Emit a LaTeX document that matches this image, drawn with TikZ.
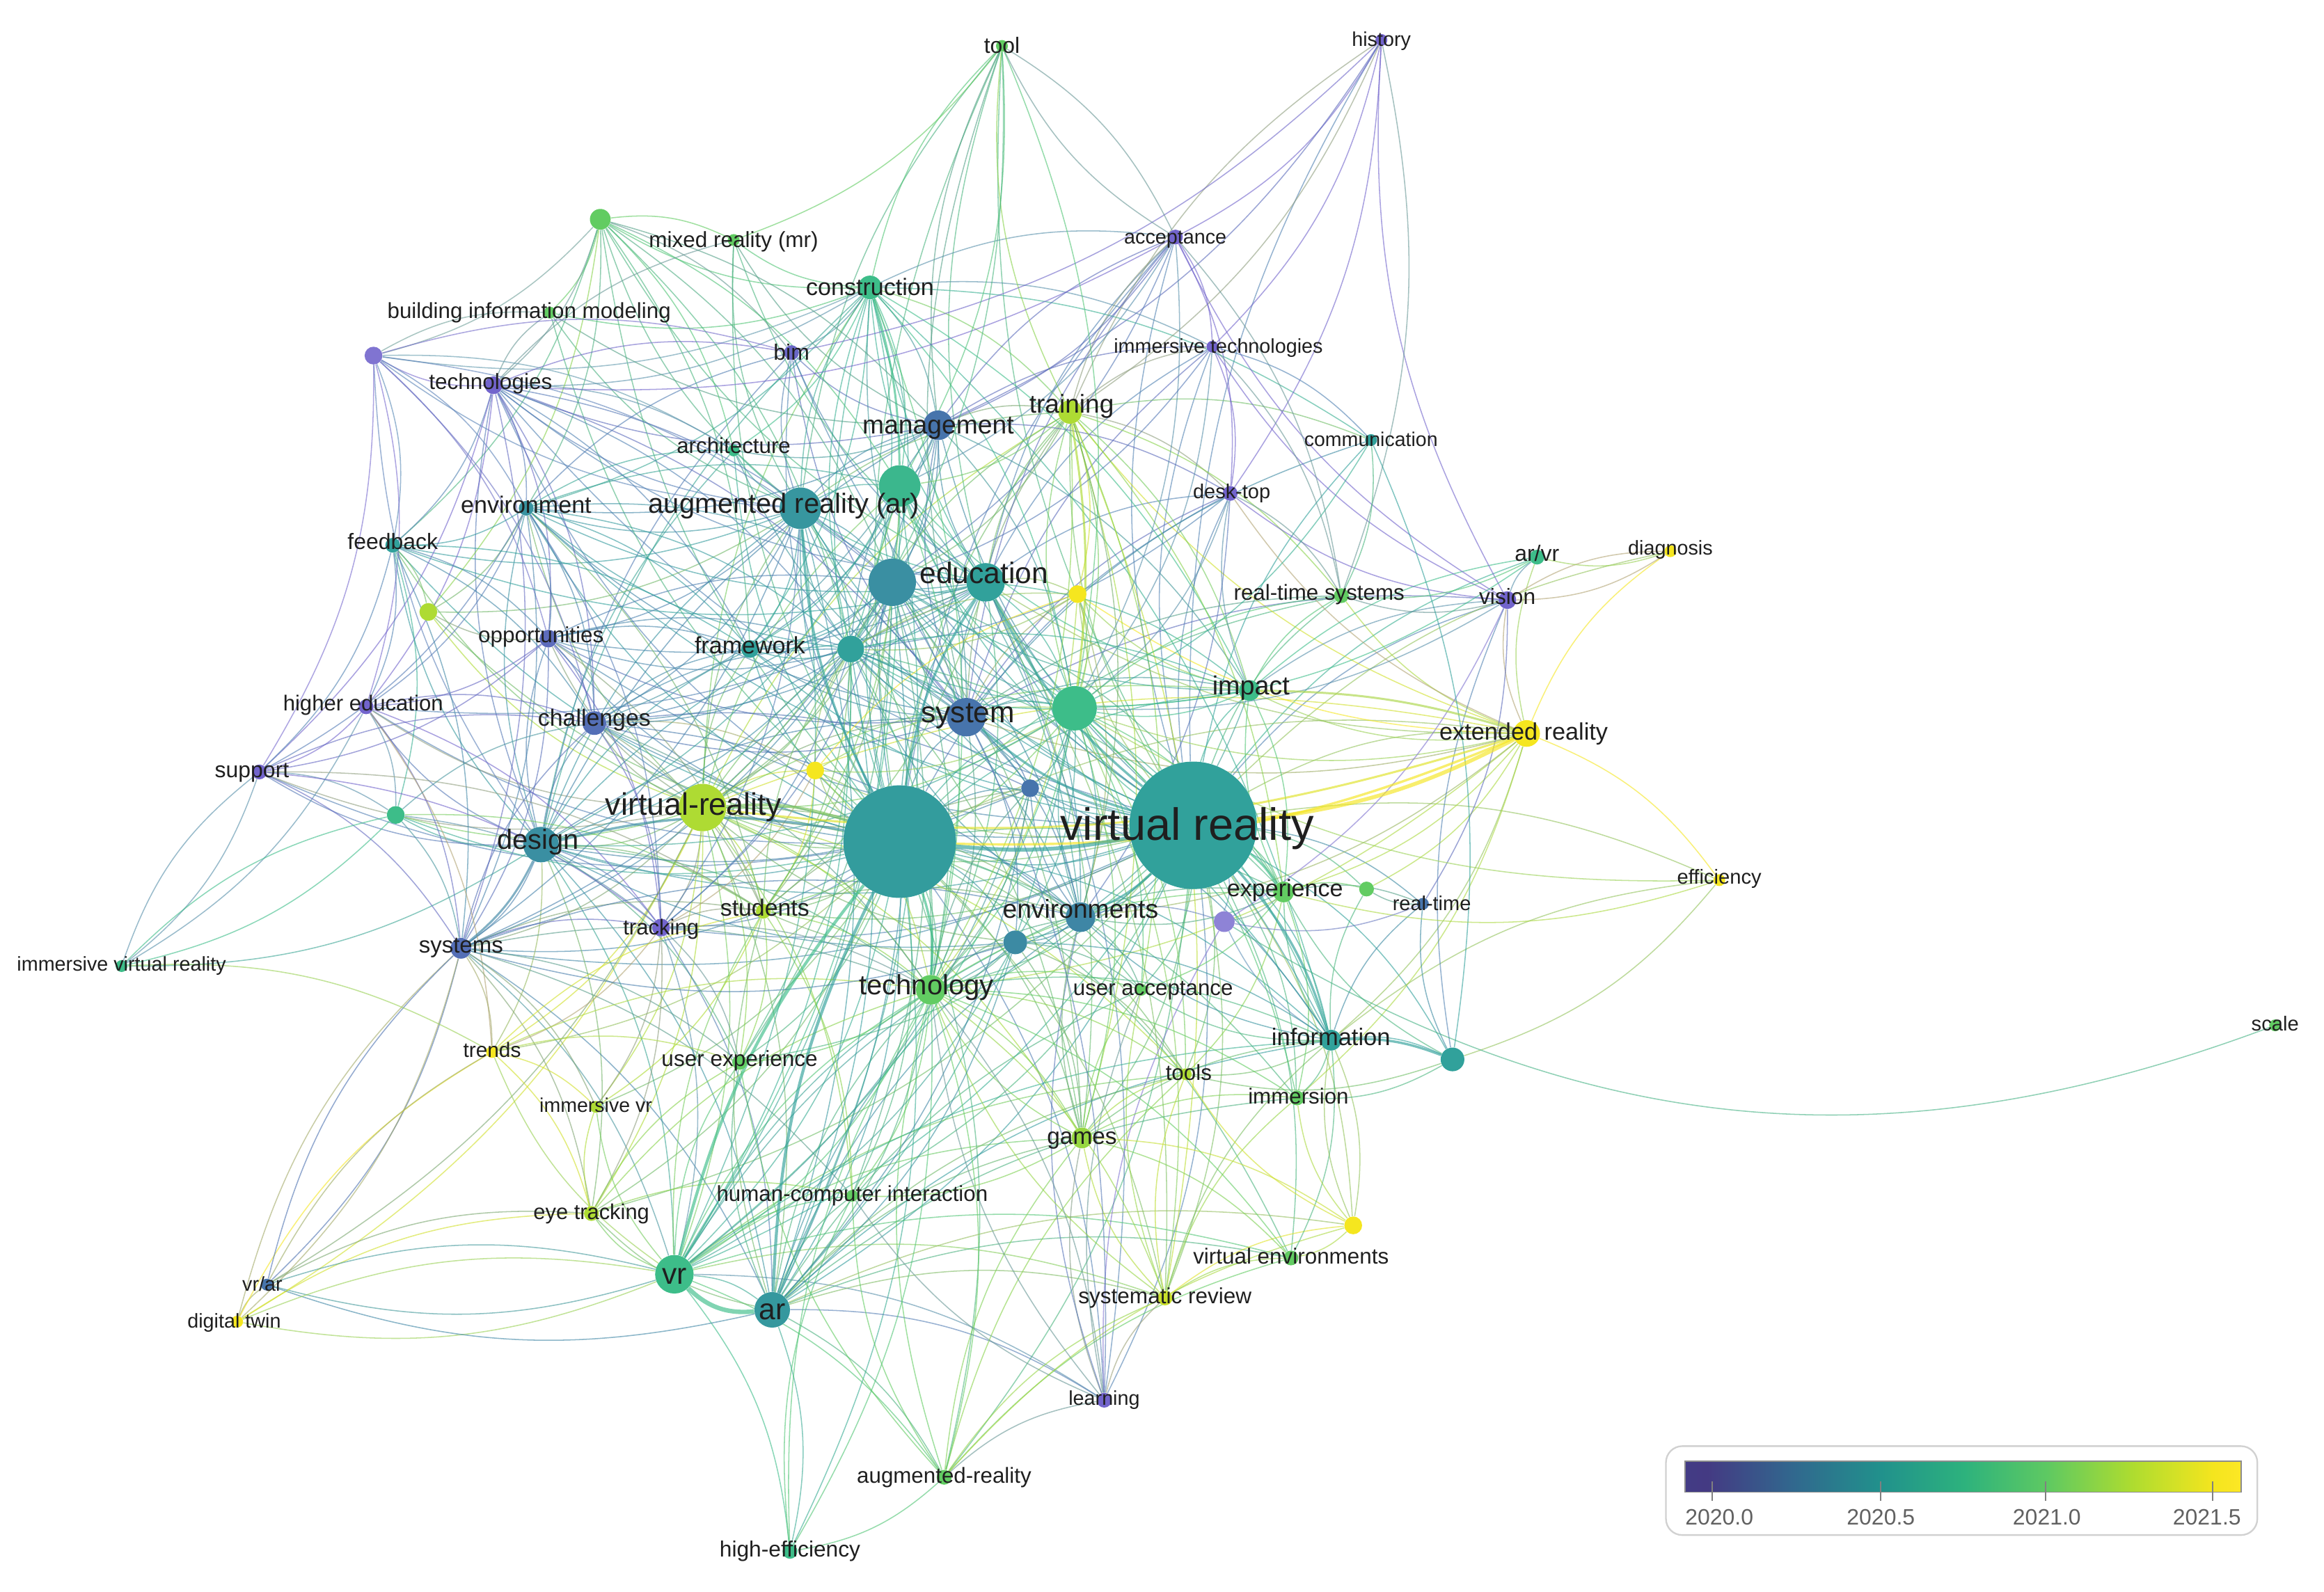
\documentclass[tikz,border=0pt]{standalone}
\usepackage{fontspec}
\setmainfont{Liberation Sans}
\pgfdeclarelayer{edges}
\pgfdeclarelayer{paper}
\pgfsetlayers{paper,edges,main}
\definecolor{k0}{HTML}{7264CC}
\definecolor{k1}{HTML}{4774AC}
\definecolor{k2}{HTML}{31A19B}
\definecolor{k3}{HTML}{3DBD89}
\definecolor{k4}{HTML}{62CC62}
\definecolor{k5}{HTML}{AEDB33}
\definecolor{k6}{HTML}{F5E61F}
\newcommand\kwnode[5]{\colorlet{col#1}{#5}\node[kwn,minimum size={2*#4pt},fill=#5] (#1) at (#2,#3) {};}
\newcommand\kwlab[5]{\node[kwl,font=\fontsize{#4}{#4}\selectfont] (l#1) at ({#2},{#3+0.33*#4}) {#5};}
\begin{document}
\begin{tikzpicture}[x=1pt,y=-1pt,
  kwn/.style={circle,inner sep=0pt,draw=none},
  kwl/.style={text=black!88,inner sep=0pt,anchor=base},
  edge/.style={line width=0.72pt,draw opacity=0.6},
  thick edge/.style={draw opacity=0.65}]
\useasboundingbox (0,0) rectangle (1568,1074);
\begin{pgfonlayer}{paper}
\fill[white] (0,0) rectangle (1568,1074);
\end{pgfonlayer}
% ---------- keyword nodes
\kwnode{tool}{676}{31}{4}{k4}
\kwnode{history}{932}{27}{4}{k0}
\kwnode{mrnode}{405}{148}{7}{k4}
\kwnode{mixedreality}{495}{162}{4}{k4}
\kwnode{acceptance}{793}{160}{5}{k0}
\kwnode{construction}{587}{194}{8}{k3}
\kwnode{bimodel}{371}{211}{4}{k4}
\kwnode{bim}{534}{238}{5}{k0!80!k1}
\kwnode{immtech}{818}{234}{4}{k0}
\kwnode{purpleA}{252}{240}{6}{k0!90!white}
\kwnode{technologies}{333}{260}{6}{k0}
\kwnode{training}{722}{278}{8}{k5}
\kwnode{management}{633}{287}{10}{k1}
\kwnode{architecture}{495}{304}{4}{k3}
\kwnode{communication}{925}{297}{4}{k2}
\kwnode{desktop}{830}{333}{5}{k0}
\kwnode{environment}{355}{343}{5}{k2!70!k1}
\kwnode{arnode}{540}{343}{14}{k2!75!k1}
\kwnode{bignodeA}{607}{328}{14}{k3!80!k2}
\kwnode{feedback}{265}{368}{5}{k2}
\kwnode{edunode}{602}{393}{16}{k1!40!k2}
\kwnode{education}{665}{393}{13}{k2}
\kwnode{arvr}{1037}{376}{5}{k3}
\kwnode{diagnosis}{1127}{372}{4}{k6}
\kwnode{rtsys}{905}{402}{5}{k4}
\kwnode{vision}{1017}{405}{6}{k0}
\kwnode{opportunities}{370}{431}{6}{k1!50!k0}
\kwnode{framework}{506}{438}{6}{k2}
\kwnode{midnode}{574}{438}{9}{k2}
\kwnode{yellowA}{727}{401}{6}{k6}
\kwnode{greenL}{289}{413}{6}{k5}
\kwnode{impact}{843}{466}{7}{k3}
\kwnode{highered}{247}{477}{5}{k0}
\kwnode{challenges}{401}{488}{8}{k1!70!k0}
\kwnode{system}{652}{484}{13}{k1}
\kwnode{biggreen}{725}{478}{15}{k3}
\kwnode{extreality}{1030}{495}{9}{k6}
\kwnode{support}{175}{521}{5}{k0}
\kwnode{virtreal}{474}{545}{16}{k5}
\kwnode{yellowsm}{550}{520}{6}{k6}
\kwnode{vrmain}{805}{557}{43}{k2}
\kwnode{bigcenter}{607}{568}{38}{k2!90!k1}
\kwnode{design}{365}{570}{12}{k2!60!k1}
\kwnode{greenM}{267}{550}{6}{k3}
\kwnode{experience}{866}{602}{7}{k4}
\kwnode{efficiency}{1160}{594}{4}{k6}
\kwnode{realtime}{960}{610}{4}{k1}
\kwnode{greenrt}{922}{600}{5}{k4}
\kwnode{environments}{729}{619}{10}{k1!60!k2}
\kwnode{purpleB}{826}{622}{7}{k0!80!white}
\kwnode{students}{515}{615}{5}{k5}
\kwnode{tracking}{446}{626}{6}{k0}
\kwnode{systems}{311}{640}{7}{k1!70!k0}
\kwnode{ivr}{82}{652}{4}{k3}
\kwnode{node685}{685}{636}{8}{k1!50!k2}
\kwnode{purplesm}{695}{532}{6}{k1}
\kwnode{technology}{628}{668}{10}{k4}
\kwnode{useracc}{770}{668}{4}{k4}
\kwnode{scale}{1535}{692}{4}{k4}
\kwnode{information}{898}{702}{7}{k2}
\kwnode{tealnode}{980}{715}{8}{k2}
\kwnode{trends}{332}{710}{4}{k6}
\kwnode{userexp}{499}{717}{5}{k4}
\kwnode{tools}{800}{725}{4}{k5}
\kwnode{immvr}{402}{747}{4}{k5}
\kwnode{immersion}{875}{741}{5}{k4}
\kwnode{games}{730}{768}{7}{k5!70!k4}
\kwnode{hci}{575}{807}{4}{k4}
\kwnode{eyetrack}{399}{819}{5}{k5}
\kwnode{yellowB}{913}{827}{6}{k6}
\kwnode{virtenv}{871}{849}{5}{k4}
\kwnode{vr}{455}{860}{13}{k3}
\kwnode{sysrev}{786}{876}{5}{k5!60!k6}
\kwnode{ar}{521}{884}{12}{k2!80!k1}
\kwnode{vrar}{180}{867}{4}{k1}
\kwnode{digitaltwin}{160}{892}{4}{k6}
\kwnode{learning}{745}{945}{5}{k0}
\kwnode{augreal}{637}{997}{5}{k4}
\kwnode{higheff}{533}{1047}{5}{k3}
% ---------- links
\begin{pgfonlayer}{edges}
\foreach \a/\bl in {
 vrmain/{bigcenter,system,education,edunode,arnode,bignodeA,management,training,construction,impact,experience,environments,information,tealnode,technology,useracc,games,immersion,tools,sysrev,virtenv,vr,ar,design,virtreal,students,challenges,framework,midnode,biggreen,vision,arvr,rtsys,desktop,acceptance,immtech,history,communication,realtime,greenrt,efficiency,purpleB,node685,yellowB,learning,augreal,hci,userexp,tracking,systems,eyetrack,opportunities,environment,bim,tool,technologies,extreality,diagnosis,yellowA,yellowsm,purplesm},
 bigcenter/{system,education,edunode,arnode,bignodeA,management,training,construction,impact,experience,environments,information,technology,useracc,games,immersion,tools,sysrev,virtenv,vr,ar,design,virtreal,students,challenges,framework,midnode,biggreen,rtsys,desktop,acceptance,bim,tool,technologies,environment,opportunities,feedback,highered,support,systems,tracking,userexp,hci,eyetrack,immvr,trends,augreal,higheff,learning,architecture,mixedreality,mrnode,bimodel,greenL,greenM,extreality,yellowsm,purplesm,node685},
 virtreal/{design,challenges,systems,tracking,students,system,education,framework,opportunities,highered,support,greenL,greenM,environment,feedback,technology,userexp,trends,immvr,eyetrack,vr,ar,games,extreality,yellowsm,training,impact,environments,construction,arnode,bignodeA,hci,digitaltwin,vrar,tools},
 design/{systems,challenges,support,highered,greenM,environment,technologies,feedback,opportunities,tracking,students,framework,arnode,management,education,system,vr,ar,technology,userexp,eyetrack,ivr,purpleA,bim,architecture,construction,trends},
 extreality/{impact,arvr,diagnosis,vision,efficiency,experience,biggreen,system,training,rtsys,yellowA,technology,environments,information,greenrt,desktop,immersion,education},
 system/{education,edunode,arnode,management,training,construction,framework,midnode,biggreen,impact,environments,technology,challenges,opportunities,bim,architecture,environment,desktop,immtech,acceptance,rtsys,vision,node685,purplesm,yellowA,tool,communication},
 education/{edunode,arnode,management,training,construction,bignodeA,framework,midnode,biggreen,impact,technology,environments,students,challenges,opportunities,highered,feedback,environment,technologies,bim,architecture,mixedreality,mrnode,tool,acceptance,immtech,desktop,yellowA,games,learning,sysrev},
 arnode/{edunode,management,bignodeA,construction,bim,architecture,bimodel,mixedreality,mrnode,technologies,environment,feedback,opportunities,framework,midnode,challenges,technology,ar,vr,tracking,systems,training,tool,purpleA,greenL},
 construction/{mrnode,mixedreality,bimodel,bim,architecture,management,bignodeA,training,tool,technologies,environment,purpleA,edunode,midnode,framework,acceptance,immtech,biggreen,impact,technology,information,communication},
 management/{bim,bimodel,architecture,training,bignodeA,edunode,technologies,environment,acceptance,immtech,desktop,tool,mixedreality,biggreen,midnode,framework,impact},
 training/{tool,acceptance,immtech,desktop,yellowA,biggreen,impact,rtsys,communication,bignodeA,edunode,technology,games,experience,environments,history,sysrev,useracc},
 mrnode/{mixedreality,bimodel,technologies,bim,architecture,environment,feedback,edunode,bignodeA,midnode,framework,purpleA,greenL,management},
 technologies/{purpleA,bimodel,bim,environment,feedback,opportunities,challenges,highered,edunode,framework,architecture,midnode,system,systems,support,mixedreality},
 purpleA/{bimodel,bim,feedback,highered,environment,opportunities,support,challenges,edunode,architecture},
 environment/{feedback,opportunities,challenges,highered,framework,midnode,edunode,bignodeA,greenL,systems,support,tracking,students,bim,architecture},
 feedback/{greenL,highered,opportunities,support,greenM,systems,challenges,framework},
 opportunities/{challenges,highered,support,framework,midnode,greenL,systems,tracking,students,edunode},
 highered/{support,greenM,challenges,systems,ivr,tracking,trends},
 support/{greenM,systems,challenges,ivr,students,tracking},
 greenM/{systems,ivr,challenges,students,tracking},
 systems/{tracking,vrar,digitaltwin,trends,eyetrack,vr,ar,students,challenges,technology,immvr,hci,userexp,environments},
 challenges/{framework,midnode,students,tracking,technology,environments,yellowsm,purplesm},
 tracking/{students,eyetrack,vr,ar,immvr,userexp,trends,technology},
 vr/{ar,eyetrack,immvr,trends,vrar,digitaltwin,hci,userexp,technology,students,augreal,higheff,learning,games,sysrev,environments,tools,node685,information,virtenv},
 ar/{hci,userexp,technology,students,augreal,higheff,learning,games,sysrev,environments,information,immersion,tools,node685,useracc,vrar,virtenv,yellowB,eyetrack},
 augreal/{higheff,learning,games,sysrev,hci,technology,userexp,tools,virtenv,yellowB},
 higheff/{hci,technology},
 learning/{sysrev,games,hci,technology,environments,useracc,purpleB},
 sysrev/{virtenv,games,tools,immersion,yellowB,information,useracc,technology},
 games/{tools,immersion,useracc,information,technology,environments,hci,virtenv,yellowB},
 information/{tealnode,immersion,tools,useracc,experience,environments,greenrt,realtime,efficiency,purpleB,yellowB,virtenv},
 tealnode/{experience,realtime,vision,immersion,tools},
 experience/{realtime,greenrt,purpleB,environments,useracc,immersion,tools,impact},
 impact/{biggreen,rtsys,vision,arvr,desktop,yellowA,environments,experience,midnode,edunode,bignodeA},
 vision/{arvr,diagnosis,rtsys,desktop,acceptance,history,immtech,purpleB,realtime,biggreen},
 history/{acceptance,immtech,desktop,rtsys,bim,management,training},
 acceptance/{immtech,desktop,biggreen,edunode,bignodeA,rtsys,tool,technologies,management},
 immtech/{desktop,biggreen,rtsys,communication,edunode},
 desktop/{rtsys,biggreen,environments,midnode},
 communication/{rtsys,biggreen,tealnode},
 tool/{bignodeA,mixedreality,biggreen,midnode,acceptance},
 efficiency/{experience,biggreen,tealnode},
 diagnosis/{arvr,vision},
 arvr/{rtsys,biggreen},
 yellowsm/{students,tracking,midnode,technology,biggreen,yellowA},
 yellowA/{biggreen,technology,environments,midnode},
 digitaltwin/{vrar,vr,trends,systems,eyetrack},
 vrar/{vr,systems,eyetrack,trends},
 trends/{immvr,eyetrack,userexp,students,technology},
 ivr/{greenM,trends,support},
 eyetrack/{immvr,hci,userexp,technology},
 students/{technology,userexp,environments,midnode,purplesm,hci,immvr},
 technology/{environments,node685,useracc,userexp,hci,purplesm,tools,games,vr,ar,augreal,higheff,learning,sysrev,virtenv,information,experience,immersion},
 environments/{node685,purpleB,useracc,purplesm,midnode,biggreen},
 biggreen/{midnode,edunode,bignodeA,rtsys,purplesm,technology,environments,students,vr,ar,games,information,experience,training,yellowsm,virtreal,design,node685,tools,sysrev,useracc,immersion},
 edunode/{bignodeA,midnode,framework,design,virtreal,technology,environments,students,vr,ar,games,information,experience,systems,tracking,challenges,userexp,hci,learning},
 bignodeA/{midnode,framework,virtreal,design,technology,vr,ar,environments,system,students,challenges},
 midnode/{framework,purplesm,design,virtreal,technology,environments,students,tracking,systems,vr,ar,userexp,games,information,experience,impact,training,management,construction,arnode,environment,opportunities,challenges,yellowA},
 node685/{vr,ar,games,information,students,technology,experience,useracc,tools,systems,design,virtreal},
 purplesm/{vr,ar,virtreal,design,technology,information},
 realtime/{greenrt,purpleB},
 yellowB/{virtenv,immersion,information,tools}%
}{\foreach \b in \bl {\draw[edge,draw=col\a!50!col\b] (\a) to[bend left=16] (\b);}}
% strong links
\draw[edge,draw=k2!60!k4] (purpleB) to[bend right=26] (scale);
\draw[thick edge,line width=3pt,draw=k3] (vr) to[bend right=25] (ar);
\draw[thick edge,line width=2.6pt,draw=k6] (extreality) to[bend left=10] (vrmain);
\draw[thick edge,line width=1.6pt,draw=k6] (extreality) to[bend left=12] (bigcenter);
\draw[thick edge,line width=1.4pt,draw=k6!70!k5] (extreality) to[bend left=12] (virtreal);
\draw[thick edge,line width=1.4pt,draw=k6!60!k3] (extreality) to[bend right=8] (impact);
\draw[thick edge,line width=2.6pt,draw=k2] (vrmain) to[bend left=8] (bigcenter);
\draw[thick edge,line width=1.6pt,draw=k2] (vrmain) to[bend left=12] (system);
\draw[thick edge,line width=1.6pt,draw=k2] (vrmain) to[bend left=12] (education);
\draw[thick edge,line width=1.6pt,draw=k2] (bigcenter) to[bend left=12] (education);
\draw[thick edge,line width=2pt,draw=k2] (ar) to[bend left=12] (bigcenter);
\draw[thick edge,line width=2pt,draw=k3] (vr) to[bend left=12] (bigcenter);
\draw[thick edge,line width=1.6pt,draw=k2] (vrmain) to[bend left=12] (information);
\draw[thick edge,line width=1.6pt,draw=k2] (information) to[bend left=12] (tealnode);
\draw[thick edge,line width=1.6pt,draw=k2!60!k1] (design) to[bend left=12] (bigcenter);
\draw[thick edge,line width=2pt,draw=k5!60!k2] (virtreal) to[bend left=12] (bigcenter);
\draw[thick edge,line width=1.6pt,draw=k3] (bigcenter) to[bend left=12] (technology);
\draw[thick edge,line width=1.6pt,draw=k2] (bigcenter) to[bend left=12] (arnode);
\draw[thick edge,line width=1.4pt,draw=k1!60!k2] (design) to[bend left=12] (systems);
\draw[thick edge,line width=1.4pt,draw=k3] (construction) to[bend left=8] (bignodeA);
\draw[thick edge,line width=1.4pt,draw=k5] (training) to[bend left=8] (biggreen);
\draw[thick edge,line width=1.4pt,draw=k2] (vrmain) to[bend left=10] (environments);
\draw[thick edge,line width=1.4pt,draw=k3] (vrmain) to[bend left=10] (experience);
\end{pgfonlayer}
% ---------- labels
\kwlab{tool}{676}{31}{15}{tool}
\kwlab{history}{932}{27}{13.5}{history}
\kwlab{mixedreality}{495}{162}{14.8}{mixed reality (mr)}
\kwlab{acceptance}{793}{160}{13.5}{acceptance}
\kwlab{construction}{587}{194}{16}{construction}
\kwlab{bimodel}{357}{210}{14.7}{building information modeling}
\kwlab{bim}{534}{238}{15}{bim}
\kwlab{immtech}{822}{234}{13.5}{immersive technologies}
\kwlab{technologies}{331}{258}{14.8}{technologies}
\kwlab{training}{723}{273}{17.4}{training}
\kwlab{management}{633}{287}{17.5}{management}
\kwlab{architecture}{495}{301}{14.7}{architecture}
\kwlab{communication}{925}{297}{13.4}{communication}
\kwlab{desktop}{831}{332}{13.6}{desk-top}
\kwlab{environment}{355}{341}{16}{environment}
\kwlab{arnode}{529}{340}{18.7}{augmented reality (ar)}
\kwlab{feedback}{265}{366}{15}{feedback}
\kwlab{education}{664}{387}{20}{education}
\kwlab{arvr}{1037}{374}{15}{ar/vr}
\kwlab{diagnosis}{1127}{370}{13.5}{diagnosis}
\kwlab{rtsys}{890}{400}{14.7}{real-time systems}
\kwlab{vision}{1017}{403}{14.9}{vision}
\kwlab{opportunities}{365}{429}{14.8}{opportunities}
\kwlab{framework}{506}{436}{16}{framework}
\kwlab{impact}{844}{463}{17.7}{impact}
\kwlab{highered}{245}{475}{14.6}{higher education}
\kwlab{challenges}{401}{485}{15.9}{challenges}
\kwlab{system}{653}{481}{20}{system}
\kwlab{extreality}{1028}{494}{16.1}{extended reality}
\kwlab{support}{170}{520}{15}{support}
\kwlab{virtreal}{468}{543}{21}{virtual-reality}
\kwlab{vrmain}{801}{557}{30.5}{virtual reality}
\kwlab{design}{363}{567}{18.7}{design}
\kwlab{experience}{867}{600}{16}{experience}
\kwlab{efficiency}{1160}{592}{13.7}{efficiency}
\kwlab{realtime}{966}{610}{13.6}{real-time}
\kwlab{environments}{729}{614}{17.5}{environments}
\kwlab{students}{516}{613}{15.9}{students}
\kwlab{tracking}{446}{626}{14.6}{tracking}
\kwlab{systems}{311}{638}{15.5}{systems}
\kwlab{ivr}{82}{651}{13.5}{immersive virtual reality}
\kwlab{technology}{625}{665}{18.8}{technology}
\kwlab{useracc}{778}{667}{14.7}{user acceptance}
\kwlab{scale}{1535}{691}{13.7}{scale}
\kwlab{information}{898}{700}{16.2}{information}
\kwlab{trends}{332}{709}{14}{trends}
\kwlab{userexp}{499}{715}{14.8}{user experience}
\kwlab{tools}{802}{724}{14.7}{tools}
\kwlab{immvr}{402}{746}{13.4}{immersive vr}
\kwlab{immersion}{876}{740}{14.7}{immersion}
\kwlab{games}{730}{767}{15.7}{games}
\kwlab{hci}{575}{806}{14.7}{human-computer interaction}
\kwlab{eyetrack}{399}{818}{14.5}{eye tracking}
\kwlab{virtenv}{871}{848}{14.75}{virtual environments}
\kwlab{vr}{455}{860}{20}{vr}
\kwlab{sysrev}{786}{875}{14.8}{systematic review}
\kwlab{ar}{521}{884}{20}{ar}
\kwlab{vrar}{177}{867}{13.5}{vr/ar}
\kwlab{digitaltwin}{158}{892}{13.5}{digital twin}
\kwlab{learning}{745}{944}{13.5}{learning}
\kwlab{augreal}{637}{996}{14.7}{augmented-reality}
\kwlab{higheff}{533}{1046}{14.9}{high-efficiency}
% ---------- colour legend
\draw[rounded corners=11pt,draw=black!18,line width=1.1pt,fill=white] (1124,976) rectangle (1523,1036);
\shade[left color={rgb,255:red,67;green,59;blue,133},right color={rgb,255:red,68;green,58;blue,131}] (1137,986) rectangle (1152,1007);
\shade[left color={rgb,255:red,68;green,58;blue,131},right color={rgb,255:red,49;green,104;blue,142}] (1152,986) rectangle (1210,1007);
\shade[left color={rgb,255:red,49;green,104;blue,142},right color={rgb,255:red,33;green,145;blue,140}] (1210,986) rectangle (1269,1007);
\shade[left color={rgb,255:red,33;green,145;blue,140},right color={rgb,255:red,45;green,178;blue,125}] (1269,986) rectangle (1325,1007);
\shade[left color={rgb,255:red,45;green,178;blue,125},right color={rgb,255:red,94;green,201;blue,98}] (1325,986) rectangle (1381,1007);
\shade[left color={rgb,255:red,94;green,201;blue,98},right color={rgb,255:red,173;green,220;blue,48}] (1381,986) rectangle (1438,1007);
\shade[left color={rgb,255:red,173;green,220;blue,48},right color={rgb,255:red,244;green,229;blue,30}] (1438,986) rectangle (1493,1007);
\shade[left color={rgb,255:red,244;green,229;blue,30},right color={rgb,255:red,253;green,231;blue,37}] (1493,986) rectangle (1512,1007);
\draw[black!45,line width=0.8pt] (1137,986) rectangle (1512,1007);
\foreach \t in {1155,1269,1380,1493}{\draw[black!50,line width=0.9pt] (\t,1000) -- (\t,1013);}
\node[font=\fontsize{15}{15}\selectfont,text=black!62,inner sep=0pt] (lg0) at (1160,1024) {2020.0};
\node[font=\fontsize{15}{15}\selectfont,text=black!62,inner sep=0pt] (lg1) at (1269,1024) {2020.5};
\node[font=\fontsize{15}{15}\selectfont,text=black!62,inner sep=0pt] (lg2) at (1381,1024) {2021.0};
\node[font=\fontsize{15}{15}\selectfont,text=black!62,inner sep=0pt] (lg3) at (1489,1024) {2021.5};
\end{tikzpicture}
\end{document}
